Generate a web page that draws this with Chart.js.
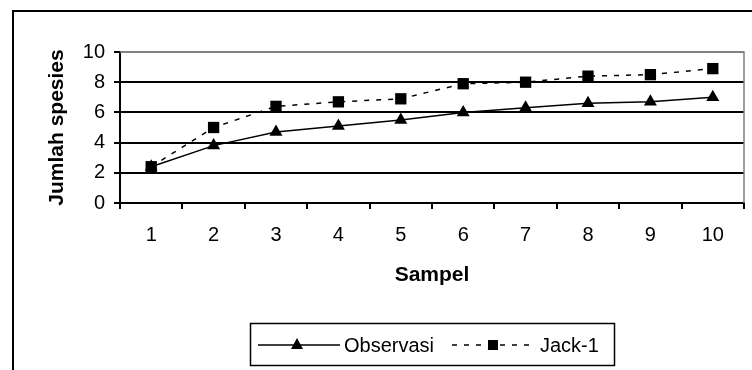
<!DOCTYPE html>
<html>
<head>
<meta charset="utf-8">
<script src="https://cdn.jsdelivr.net/npm/chart.js@4"></script>
<style>
  body { margin: 0; background: #fff; }
  canvas { display: block; }
</style>
</head>
<body>
<canvas id="speciesChart" width="752" height="370"></canvas>
<script>
// data
const sampel = ["1", "2", "3", "4", "5", "6", "7", "8", "9", "10"];
const observasi = [2.4, 3.8, 4.7, 5.1, 5.5, 6.0, 6.3, 6.6, 6.7, 7.0];
const jack1 = [2.4, 5.0, 6.4, 6.7, 6.9, 7.9, 8.0, 8.4, 8.5, 8.9];
const yMin = 0;
const yMax = 10;
const yStep = 2;

const FONT = "'Liberation Sans', Arial, sans-serif";
const DASH = [5, 7];

Chart.defaults.color = "#000";
Chart.defaults.font.family = FONT;

// outer frame, grey plot border and the legend box
const framePlugin = {
    id: "frame",
    beforeDatasetsDraw(chart) {
        const ctx = chart.ctx;
        const a = chart.chartArea;
        ctx.save();
        ctx.strokeStyle = "#808080";
        ctx.lineWidth = 1.5;
        ctx.beginPath();
        ctx.moveTo(a.left, a.top);
        ctx.lineTo(a.right, a.top);
        ctx.lineTo(a.right, a.bottom);
        ctx.stroke();
        ctx.restore();
    },
    afterDraw(chart) {
        const ctx = chart.ctx;
        ctx.save();
        // chart border, runs off the right and bottom edge
        ctx.strokeStyle = "#000";
        ctx.lineWidth = 2;
        ctx.beginPath();
        ctx.moveTo(13, 372);
        ctx.lineTo(13, 11);
        ctx.lineTo(754, 11);
        ctx.stroke();

        // legend
        ctx.lineWidth = 1.5;
        ctx.strokeRect(250.5, 323.5, 364, 42);
        const ly = 345;

        ctx.beginPath();
        ctx.moveTo(258, ly);
        ctx.lineTo(340, ly);
        ctx.stroke();
        ctx.beginPath();
        ctx.moveTo(297, ly - 7);
        ctx.lineTo(303, ly + 4);
        ctx.lineTo(291, ly + 4);
        ctx.closePath();
        ctx.fill();

        ctx.setLineDash(DASH);
        ctx.beginPath();
        ctx.moveTo(452, ly);
        ctx.lineTo(534, ly);
        ctx.stroke();
        ctx.setLineDash([]);
        ctx.fillRect(488, ly - 5, 10, 10);

        ctx.font = "20px " + FONT;
        ctx.textBaseline = "middle";
        ctx.textAlign = "left";
        ctx.fillText("Observasi", 344, ly + 1);
        ctx.fillText("Jack-1", 540, ly + 1);
        ctx.restore();
    }
};

const config = {
    type: "line",
    data: {
        labels: sampel,
        datasets: [
            {
                label: "Observasi",
                data: observasi,
                borderColor: "#000",
                backgroundColor: "#000",
                borderWidth: 1.5,
                pointStyle: "triangle",
                pointRadius: 7.5,
                pointBorderWidth: 0,
                tension: 0
            },
            {
                label: "Jack-1",
                data: jack1,
                borderColor: "#000",
                backgroundColor: "#000",
                borderWidth: 1.5,
                borderDash: DASH,
                pointStyle: "rect",
                pointRadius: 8,
                pointBorderWidth: 0,
                tension: 0
            }
        ]
    },
    options: {
        responsive: false,
        animation: false,
        layout: {
            padding: { left: 36, top: 52, right: 6, bottom: 80 }
        },
        plugins: {
            legend: { display: false },
            tooltip: { enabled: false }
        },
        scales: {
            x: {
                offset: true,
                grid: {
                    offset: true,
                    drawOnChartArea: false,
                    tickLength: 6,
                    color: "#000",
                    lineWidth: 2
                },
                border: { color: "#000", width: 2 },
                ticks: {
                    padding: 14,
                    maxRotation: 0,
                    font: { size: 20 }
                },
                title: {
                    display: true,
                    text: "Sampel",
                    font: { size: 21, weight: "bold" },
                    padding: { top: 0, bottom: 2 }
                },
                afterFit(scale) {
                    scale.height = 87;
                }
            },
            y: {
                min: yMin,
                max: yMax,
                ticks: {
                    stepSize: yStep,
                    padding: 9,
                    font: { size: 20 }
                },
                grid: {
                    color: function(context) {
                        return context.tick && context.tick.value === yMax ? "#808080" : "#000";
                    },
                    tickColor: "#000",
                    lineWidth: 2,
                    tickLength: 6
                },
                border: { color: "#000", width: 2 },
                title: {
                    display: true,
                    text: "Jumlah spesies",
                    font: { size: 21, weight: "bold" },
                    padding: { top: 9, bottom: 0 }
                },
                afterFit(scale) {
                    scale.width = 84;
                }
            }
        }
    },
    plugins: [framePlugin]
};

new Chart(document.getElementById("speciesChart").getContext("2d"), config);
</script>
</body>
</html>
